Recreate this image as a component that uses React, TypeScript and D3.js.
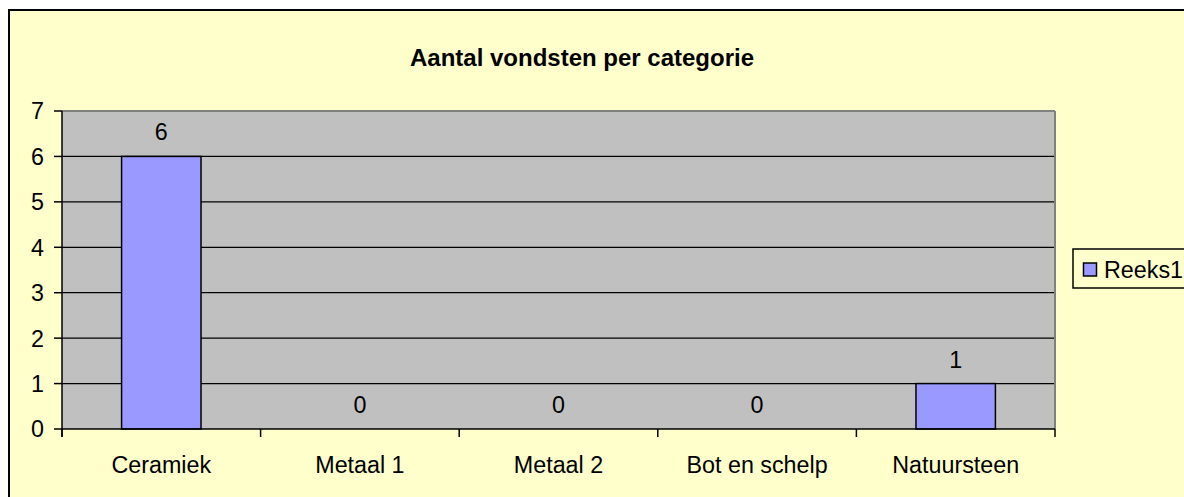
import React from "react"
import { scaleBand, scaleLinear, range } from "d3"

// chart data
const categories = ["Ceramiek", "Metaal 1", "Metaal 2", "Bot en schelp", "Natuursteen"]
const values = [6, 0, 0, 0, 1]
const yTicks = [0, 1, 2, 3, 4, 5, 6, 7]
const seriesName = "Reeks1"
const title = "Aantal vondsten per categorie"

const W = 1184
const H = 497
const plot = { left: 62, right: 1055, top: 111, bottom: 429 }
const font = "Arial, 'Liberation Sans', sans-serif"
const fs = 23.3

export default function App() {
  const x = scaleBand<string>()
    .domain(categories)
    .range([plot.left, plot.right])
  const y = scaleLinear()
    .domain([0, 7])
    .range([plot.bottom, plot.top])

  // bars take 1/2.5 of the band (excel gap width 150%)
  const barW = x.bandwidth() / 2.5
  const bounds = range(categories.length + 1).map(i => plot.left + i * x.bandwidth())

  return (
    <svg width={W} height={H} style={{ position: "absolute", left: 0, top: 0 }}>
      <rect x={0} y={0} width={W} height={H} fill="#ffffff" />
      <rect x={9} y={10} width={W + 20} height={H + 20} fill="#ffffcc" stroke="#000" strokeWidth={2} />

      <text x={582} y={66} textAnchor="middle" fontFamily={font} fontWeight="bold" fontSize={24}>
        {title}
      </text>

      {/* plot area */}
      <rect x={plot.left} y={plot.top} width={plot.right - plot.left} height={plot.bottom - plot.top} fill="#c0c0c0" />
      {yTicks.filter(t => t > 0 && t < 7).map(t => (
        <line key={t} x1={plot.left} x2={plot.right} y1={y(t)} y2={y(t)} stroke="#000" strokeWidth={1.3} />
      ))}
      <line x1={plot.left} x2={plot.right} y1={plot.top} y2={plot.top} stroke="#808080" strokeWidth={2} />
      <line x1={plot.right} x2={plot.right} y1={plot.top} y2={plot.bottom} stroke="#808080" strokeWidth={2} />

      {categories.map((c, i) => {
        const cx = x(c)! + x.bandwidth() / 2
        return (
          <g key={c}>
            {values[i] > 0 && (
              <rect x={cx - barW / 2} y={y(values[i])} width={barW} height={y(0) - y(values[i])}
                fill="#9999ff" stroke="#000" strokeWidth={1.5} />
            )}
            <text x={cx} y={y(values[i]) - 16} textAnchor="middle" fontFamily={font} fontSize={fs}>
              {values[i]}
            </text>
            <text x={cx} y={473} textAnchor="middle" fontFamily={font} fontSize={fs}>
              {c}
            </text>
          </g>
        )
      })}

      {/* axes */}
      <line x1={plot.left} x2={plot.left} y1={plot.top} y2={plot.bottom + 8} stroke="#000" strokeWidth={1.5} />
      <line x1={plot.left} x2={plot.right} y1={plot.bottom} y2={plot.bottom} stroke="#000" strokeWidth={1.5} />
      {yTicks.map(t => (
        <g key={t}>
          <line x1={plot.left - 8} x2={plot.left} y1={y(t)} y2={y(t)} stroke="#000" strokeWidth={1.5} />
          <text x={44} y={y(t)} dy="0.36em" textAnchor="end" fontFamily={font} fontSize={fs}>{t}</text>
        </g>
      ))}
      {bounds.map((b, i) => (
        <line key={i} x1={b} x2={b} y1={plot.bottom} y2={plot.bottom + 8} stroke="#000" strokeWidth={1.5} />
      ))}

      {/* legend */}
      <rect x={1073} y={249} width={140} height={39} fill="#ffffcc" stroke="#000" strokeWidth={1.5} />
      <rect x={1083.5} y={263} width={13} height={13} fill="#9999ff" stroke="#000" strokeWidth={1.5} />
      <text x={1104} y={278} fontFamily={font} fontSize={fs}>{seriesName}</text>
    </svg>
  )
}
